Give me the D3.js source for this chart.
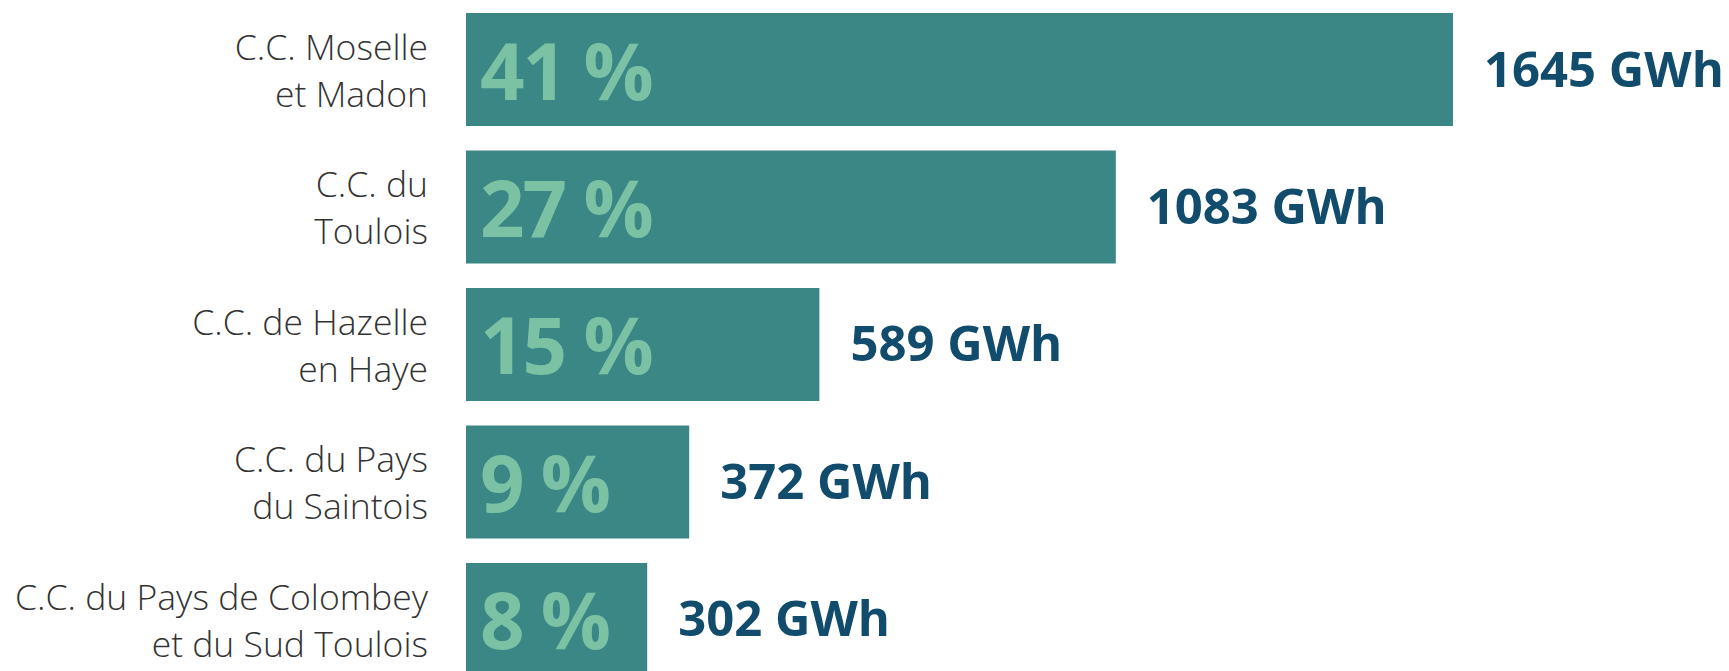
<!DOCTYPE html>
<html>
<head>
<meta charset="utf-8">
<script src="https://cdn.jsdelivr.net/npm/d3@7"></script>
<style>
    html, body { margin: 0; padding: 0; background: #ffffff; }
    svg { display: block; }
</style>
</head>
<body>
<div class="chart"></div>
<script>
// chart data
const categories = [
    ["C.C. Moselle", "et Madon"],
    ["C.C. du", "Toulois"],
    ["C.C. de Hazelle", "en Haye"],
    ["C.C. du Pays", "du Saintois"],
    ["C.C. du Pays de Colombey", "et du Sud Toulois"]
];
const energyGWh = [1645, 1083, 589, 372, 302];
const shareLabels = ["41 %", "27 %", "15 %", "9 %", "8 %"];

document.addEventListener("DOMContentLoaded", function () {
    const width = 1729;
    const height = 671;

    const svg = d3.select(".chart").append("svg")
        .attr("width", width)
        .attr("height", height);

    const keys = categories.map(c => c.join(" "));

    const y = d3.scaleBand()
        .domain(keys)
        .range([13, 676])
        .paddingInner(0.178)
        .paddingOuter(0);

    const x = d3.scaleLinear()
        .domain([0, 1645])
        .range([466, 1453]);

    const rows = svg.selectAll("g.row")
        .data(energyGWh.map((v, i) => ({ value: v, key: keys[i], lines: categories[i], share: shareLabels[i] })))
        .join("g")
        .attr("class", "row")
        .attr("transform", d => `translate(0,${y(d.key)})`);

    const bw = y.bandwidth();

    rows.append("rect")
        .attr("x", x(0))
        .attr("y", 0)
        .attr("width", d => x(d.value) - x(0))
        .attr("height", bw)
        .attr("fill", "#3a8785");

    // percent inside the bar
    rows.append("text")
        .attr("x", x(0) + 14)
        .attr("y", bw / 2 + 30)
        .attr("font-family", "'Open Sans', sans-serif")
        .attr("font-weight", 700)
        .attr("font-size", 78)
        .attr("letter-spacing", -2)
        .attr("fill", "#7bc2a5")
        .text(d => d.share);

    // value at the end of the bar
    rows.append("text")
        .attr("x", d => x(d.value) + 31)
        .attr("y", bw / 2 + 17)
        .attr("font-family", "'Open Sans', sans-serif")
        .attr("font-weight", 700)
        .attr("font-size", 49)
        .attr("fill", "#124c6d")
        .text(d => `${d.value} GWh`);

    // category names, two lines, right aligned
    const names = rows.append("text")
        .attr("text-anchor", "end")
        .attr("font-family", "'Open Sans', sans-serif")
        .attr("font-weight", 300)
        .attr("font-size", 35.5)
        .attr("fill", "#333333");

    names.selectAll("tspan")
        .data(d => d.lines)
        .join("tspan")
        .attr("x", 428)
        .attr("y", (d, i) => bw / 2 - 9.5 + i * 47)
        .text(d => d);
});
</script>
</body>
</html>
